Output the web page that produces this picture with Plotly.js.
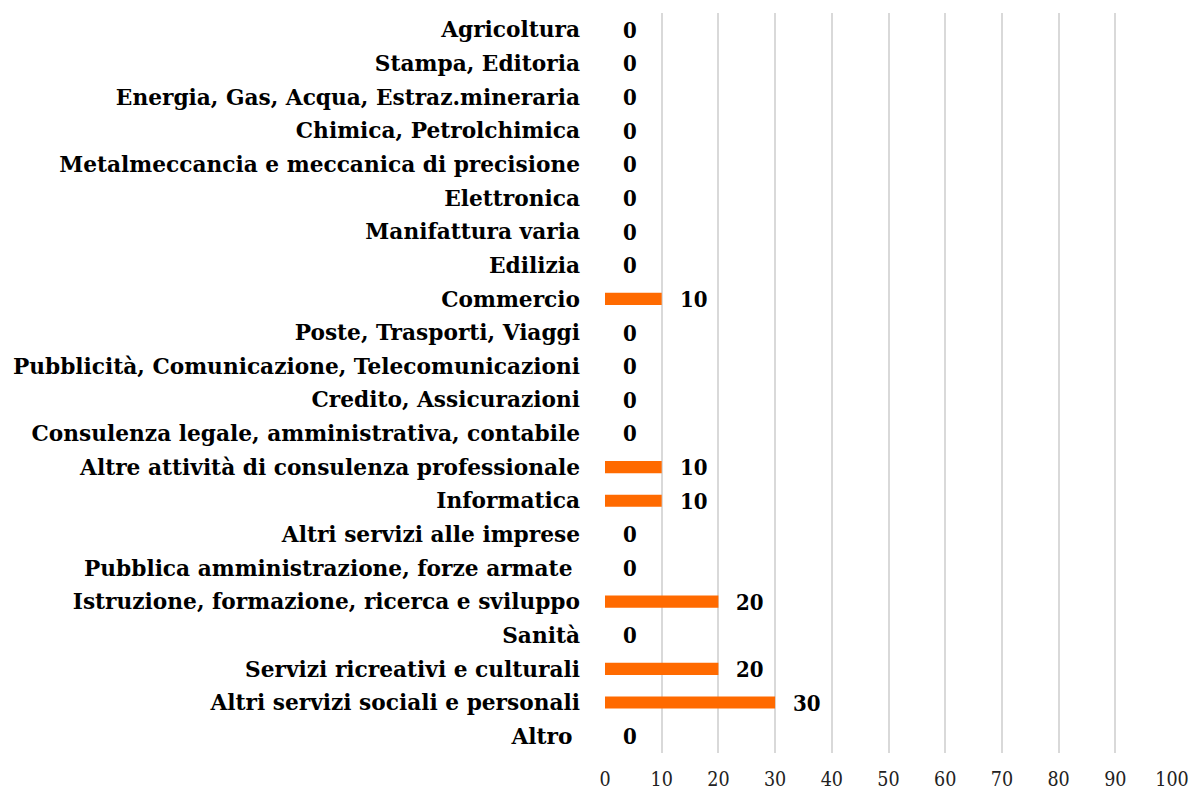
<!DOCTYPE html>
<html>
<head>
<meta charset="utf-8">
<script src="https://cdn.plot.ly/plotly-3.0.1.min.js"></script>
<style>html,body{margin:0;padding:0;background:#fff;}#chart{width:1195px;height:791px;}</style>
</head>
<body>
<div id="chart"></div>
<script>
const categories = [
  "Agricoltura",
  "Stampa, Editoria",
  "Energia, Gas, Acqua, Estraz.mineraria",
  "Chimica, Petrolchimica",
  "Metalmeccancia e meccanica di precisione",
  "Elettronica",
  "Manifattura varia",
  "Edilizia",
  "Commercio",
  "Poste, Trasporti, Viaggi",
  "Pubblicità, Comunicazione, Telecomunicazioni",
  "Credito, Assicurazioni",
  "Consulenza legale, amministrativa, contabile",
  "Altre attività di consulenza professionale",
  "Informatica",
  "Altri servizi alle imprese",
  "Pubblica amministrazione, forze armate ",
  "Istruzione, formazione, ricerca e sviluppo",
  "Sanità",
  "Servizi ricreativi e culturali",
  "Altri servizi sociali e personali",
  "Altro "
];
const values = [0,0,0,0,0,0,0,0,10,0,0,0,0,10,10,0,0,20,0,20,30,0];
const xTicks = [0,10,20,30,40,50,60,70,80,90,100];

const FONT = "'DejaVu Serif', serif";
const FONT_C = "'DejaVu Serif Condensed', 'DejaVu Serif', serif";

const trace = {
  type: 'bar',
  orientation: 'h',
  y: categories,
  x: values,
  width: 0.36,
  marker: {color: '#ff6a00'},
  hoverinfo: 'none'
};

const annotations = categories.map((c, i) => ({
  x: values[i], y: c, xref: 'x', yref: 'y',
  text: String(values[i]),
  showarrow: false, xanchor: 'left', xshift: 16,
  font: {family: FONT_C, size: 22, color: '#000', weight: 'bold'}
}));

const layout = {
  width: 1195, height: 791,
  margin: {l: 605, r: 23, t: 13, b: 38},
  paper_bgcolor: '#fff', plot_bgcolor: '#fff',
  showlegend: false,
  xaxis: {
    range: [0, 100], tickvals: xTicks, ticktext: xTicks.map(String),
    showgrid: true, gridcolor: '#d9d9d9', gridwidth: 2,
    zeroline: false, showline: false, ticks: '',
    ticklabelstandoff: 12,
    tickfont: {family: FONT_C, size: 19.5, color: '#222'},
    fixedrange: true
  },
  yaxis: {
    type: 'category', autorange: 'reversed',
    showgrid: false, zeroline: false, showline: false, ticks: '',
    ticklabelstandoff: 24,
    tickfont: {family: FONT, size: 21.7, color: '#000', weight: 'bold'},
    automargin: false, fixedrange: true
  },
  annotations: annotations
};

Plotly.newPlot('chart', [trace], layout, {displayModeBar: false, staticPlot: true});
</script>
</body>
</html>
